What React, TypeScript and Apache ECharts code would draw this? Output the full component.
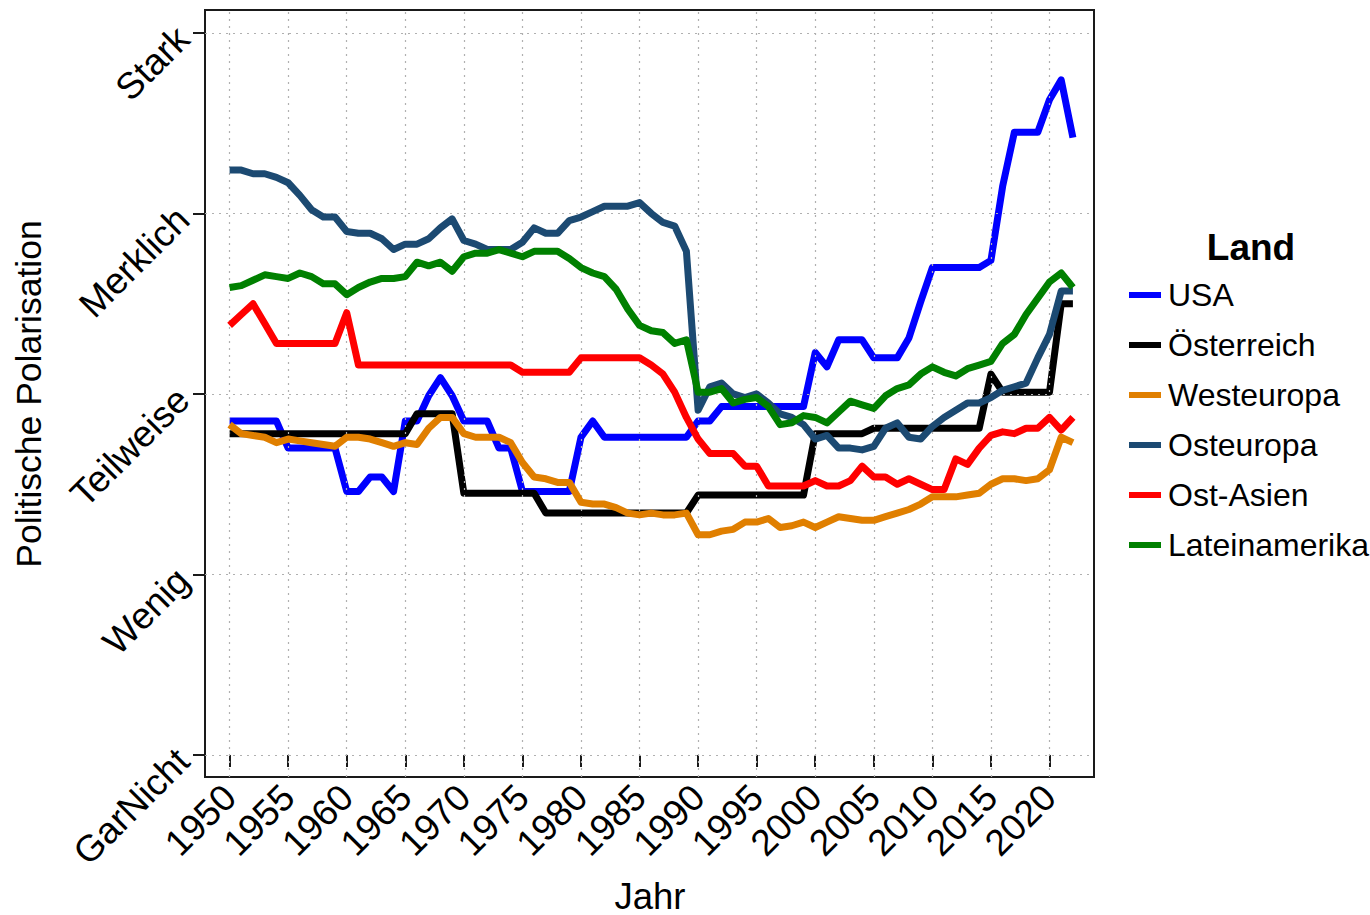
import React, { useEffect, useRef } from "react";
import * as echarts from "echarts";

const years = [
  1950, 1951, 1952, 1953, 1954, 1955, 1956, 1957, 1958, 1959,
  1960, 1961, 1962, 1963, 1964, 1965, 1966, 1967, 1968, 1969,
  1970, 1971, 1972, 1973, 1974, 1975, 1976, 1977, 1978, 1979,
  1980, 1981, 1982, 1983, 1984, 1985, 1986, 1987, 1988, 1989,
  1990, 1991, 1992, 1993, 1994, 1995, 1996, 1997, 1998, 1999,
  2000, 2001, 2002, 2003, 2004, 2005, 2006, 2007, 2008, 2009,
  2010, 2011, 2012, 2013, 2014, 2015, 2016, 2017, 2018, 2019,
  2020, 2021, 2022,
];

const usa = [
  1.85, 1.85, 1.85, 1.85, 1.85, 1.7, 1.7, 1.7, 1.7, 1.7,
  1.46, 1.46, 1.54, 1.54, 1.46, 1.85, 1.85, 1.99, 2.09, 1.99,
  1.85, 1.85, 1.85, 1.7, 1.7, 1.46, 1.46, 1.46, 1.46, 1.46,
  1.76, 1.85, 1.76, 1.76, 1.76, 1.76, 1.76, 1.76, 1.76, 1.76,
  1.85, 1.85, 1.93, 1.93, 1.93, 1.93, 1.93, 1.93, 1.93, 1.93,
  2.23, 2.15, 2.3, 2.3, 2.3, 2.2, 2.2, 2.2, 2.31, 2.51,
  2.7, 2.7, 2.7, 2.7, 2.7, 2.74, 3.15, 3.45, 3.45, 3.45,
  3.63, 3.74, 3.42,
];

const oesterreich = [
  1.78, 1.78, 1.78, 1.78, 1.78, 1.78, 1.78, 1.78, 1.78, 1.78,
  1.78, 1.78, 1.78, 1.78, 1.78, 1.78, 1.89, 1.89, 1.89, 1.89,
  1.45, 1.45, 1.45, 1.45, 1.45, 1.45, 1.45, 1.34, 1.34, 1.34,
  1.34, 1.34, 1.34, 1.34, 1.34, 1.34, 1.34, 1.34, 1.34, 1.34,
  1.44, 1.44, 1.44, 1.44, 1.44, 1.44, 1.44, 1.44, 1.44, 1.44,
  1.78, 1.78, 1.78, 1.78, 1.78, 1.81, 1.81, 1.81, 1.81, 1.81,
  1.81, 1.81, 1.81, 1.81, 1.81, 2.11, 2.01, 2.01, 2.01, 2.01,
  2.01, 2.5, 2.5,
];

const westeuropa = [
  1.83, 1.78, 1.77, 1.76, 1.73, 1.75, 1.74, 1.73, 1.72, 1.71,
  1.76, 1.76, 1.75, 1.73, 1.71, 1.73, 1.72, 1.81, 1.87, 1.87,
  1.78, 1.76, 1.76, 1.76, 1.73, 1.62, 1.54, 1.53, 1.51, 1.51,
  1.4, 1.39, 1.39, 1.37, 1.34, 1.33, 1.34, 1.33, 1.33, 1.34,
  1.22, 1.22, 1.24, 1.25, 1.29, 1.29, 1.31, 1.26, 1.27, 1.29,
  1.26, 1.29, 1.32, 1.31, 1.3, 1.3, 1.32, 1.34, 1.36, 1.39,
  1.43, 1.43, 1.43, 1.44, 1.45, 1.5, 1.53, 1.53, 1.52, 1.53,
  1.58, 1.76, 1.73,
];

const osteuropa = [
  3.24, 3.24, 3.22, 3.22, 3.2, 3.17, 3.1, 3.02, 2.98, 2.98,
  2.9, 2.89, 2.89, 2.86, 2.8, 2.83, 2.83, 2.86, 2.92, 2.97,
  2.85, 2.83, 2.8, 2.8, 2.8, 2.84, 2.92, 2.89, 2.89, 2.96,
  2.98, 3.01, 3.04, 3.04, 3.04, 3.06, 3.0, 2.95, 2.93, 2.79,
  1.91, 2.04, 2.06, 2.0, 1.98, 2.0, 1.95, 1.89, 1.87, 1.83,
  1.75, 1.77, 1.7, 1.7, 1.69, 1.71, 1.81, 1.84, 1.76, 1.75,
  1.82, 1.87, 1.91, 1.95, 1.95, 1.98, 2.02, 2.04, 2.06, 2.2,
  2.33, 2.57, 2.57,
];

const ostAsien = [
  2.38, 2.44, 2.5, 2.39, 2.28, 2.28, 2.28, 2.28, 2.28, 2.28,
  2.45, 2.16, 2.16, 2.16, 2.16, 2.16, 2.16, 2.16, 2.16, 2.16,
  2.16, 2.16, 2.16, 2.16, 2.16, 2.12, 2.12, 2.12, 2.12, 2.12,
  2.2, 2.2, 2.2, 2.2, 2.2, 2.2, 2.16, 2.11, 2.01, 1.87,
  1.75, 1.67, 1.67, 1.67, 1.6, 1.6, 1.49, 1.49, 1.49, 1.49,
  1.52, 1.49, 1.49, 1.52, 1.6, 1.54, 1.54, 1.5, 1.53, 1.5,
  1.47, 1.47, 1.64, 1.61, 1.7, 1.77, 1.79, 1.78, 1.81, 1.81,
  1.87, 1.8, 1.87,
];

const lateinamerika = [
  2.59, 2.6, 2.63, 2.66, 2.65, 2.64, 2.67, 2.65, 2.61, 2.61,
  2.55, 2.59, 2.62, 2.64, 2.64, 2.65, 2.73, 2.71, 2.73, 2.68,
  2.76, 2.78, 2.78, 2.8, 2.78, 2.76, 2.79, 2.79, 2.79, 2.75,
  2.7, 2.67, 2.65, 2.58, 2.47, 2.38, 2.35, 2.34, 2.28, 2.3,
  2.01, 2.01, 2.03, 1.95, 1.97, 1.98, 1.93, 1.83, 1.84, 1.88,
  1.87, 1.84, 1.9, 1.96, 1.94, 1.92, 1.99, 2.03, 2.05, 2.11,
  2.15, 2.12, 2.1, 2.14, 2.16, 2.18, 2.28, 2.33, 2.44, 2.53,
  2.62, 2.67, 2.59,
];

const seriesNames = ["USA", "Österreich", "Westeuropa", "Osteuropa", "Ost-Asien", "Lateinamerika"];
const seriesValues = [usa, oesterreich, westeuropa, osteuropa, ostAsien, lateinamerika];
const seriesColors = ["#0000ff", "#000000", "#e07f00", "#1c4a72", "#ff0000", "#008000"];

const xTicks = [1950, 1955, 1960, 1965, 1970, 1975, 1980, 1985, 1990, 1995, 2000, 2005, 2010, 2015, 2020];
const yTicks = [0, 1, 2, 3, 4];
const yTickLabels = ["GarNicht", "Wenig", "Teilweise", "Merklich", "Stark"];

const FONT = '"Liberation Sans", Arial, Helvetica, sans-serif';

export default function App() {
  const ref = useRef<HTMLDivElement>(null);

  useEffect(() => {
    if (!ref.current) return;
    const chart = echarts.init(ref.current, null, { renderer: "svg" });

    const dataSeries = seriesNames.map((name, si) => ({
      name,
      type: "line",
      z: 3 + si,
      showSymbol: false,
      symbol: "none",
      data: years.map((yr, i) => [yr, seriesValues[si][i]]),
      lineStyle: { width: 7, color: seriesColors[si], join: "round", cap: "butt" },
      itemStyle: { color: seriesColors[si] },
    }));

    const gridSeries = {
      name: "grid",
      type: "line",
      z: 1,
      data: [],
      silent: true,
      markLine: {
        silent: true,
        symbol: "none",
        animation: false,
        label: { show: false },
        lineStyle: { type: [2, 5], color: "#b0b0b0", width: 1.2 },
        emphasis: { disabled: true },
        data: [
          ...xTicks.map((v) => ({ xAxis: v })),
          ...yTicks.map((v) => ({ yAxis: v })),
        ],
      },
    };

    chart.setOption({
      animation: false,
      backgroundColor: "#ffffff",
      grid: {
        left: 205,
        top: 10,
        width: 889,
        height: 767,
        show: true,
        borderColor: "#1a1a1a",
        borderWidth: 2,
        backgroundColor: "transparent",
      },
      xAxis: {
        type: "value",
        min: 1947.9,
        max: 2023.8,
        axisLine: { show: false },
        axisTick: {
          show: true,
          length: 12,
          customValues: xTicks,
          lineStyle: { color: "#1a1a1a", width: 2 },
        },
        axisLabel: {
          customValues: xTicks,
          rotate: 45,
          fontSize: 37,
          color: "#000",
          fontFamily: FONT,
          margin: 14,
          formatter: (v: number) => String(v),
        },
        splitLine: { show: false },
      },
      yAxis: {
        type: "value",
        min: -0.122,
        max: 4.127,
        axisLine: { show: false },
        axisTick: {
          show: true,
          length: 12,
          customValues: yTicks,
          lineStyle: { color: "#1a1a1a", width: 2 },
        },
        axisLabel: {
          customValues: yTicks,
          rotate: 45,
          fontSize: 37,
          color: "#000",
          fontFamily: FONT,
          margin: 22,
          formatter: (v: number) => {
            const idx = yTicks.indexOf(Math.round(v));
            return idx >= 0 ? yTickLabels[idx] : "";
          },
        },
        splitLine: { show: false },
      },
      legend: {
        data: seriesNames,
        orient: "vertical",
        left: 1124,
        top: 272,
        icon: "rect",
        itemWidth: 32,
        itemHeight: 6,
        itemGap: 14,
        selectedMode: false,
        textStyle: {
          fontSize: 32,
          color: "#000",
          fontFamily: FONT,
          lineHeight: 36,
          padding: [0, 0, 0, 2],
        },
      },
      graphic: [
        {
          type: "text",
          x: 1251,
          y: 247,
          style: {
            text: "Land",
            fontSize: 37,
            fontWeight: "bold",
            fontFamily: FONT,
            fill: "#000",
            textAlign: "center",
            textVerticalAlign: "middle",
          },
        },
        {
          type: "text",
          x: 650,
          y: 896,
          style: {
            text: "Jahr",
            fontSize: 36.5,
            fontFamily: FONT,
            fill: "#000",
            textAlign: "center",
            textVerticalAlign: "middle",
          },
        },
        {
          type: "text",
          x: 29,
          y: 394,
          rotation: Math.PI / 2,
          style: {
            text: "Politische Polarisation",
            fontSize: 35.5,
            fontFamily: FONT,
            fill: "#000",
            textAlign: "center",
            textVerticalAlign: "middle",
          },
        },
      ],
      series: [gridSeries, ...dataSeries],
    });

    return () => chart.dispose();
  }, []);

  return (
    <div
      ref={ref}
      style={{ position: "absolute", left: 0, top: 0, width: 1370, height: 915 }}
    />
  );
}
